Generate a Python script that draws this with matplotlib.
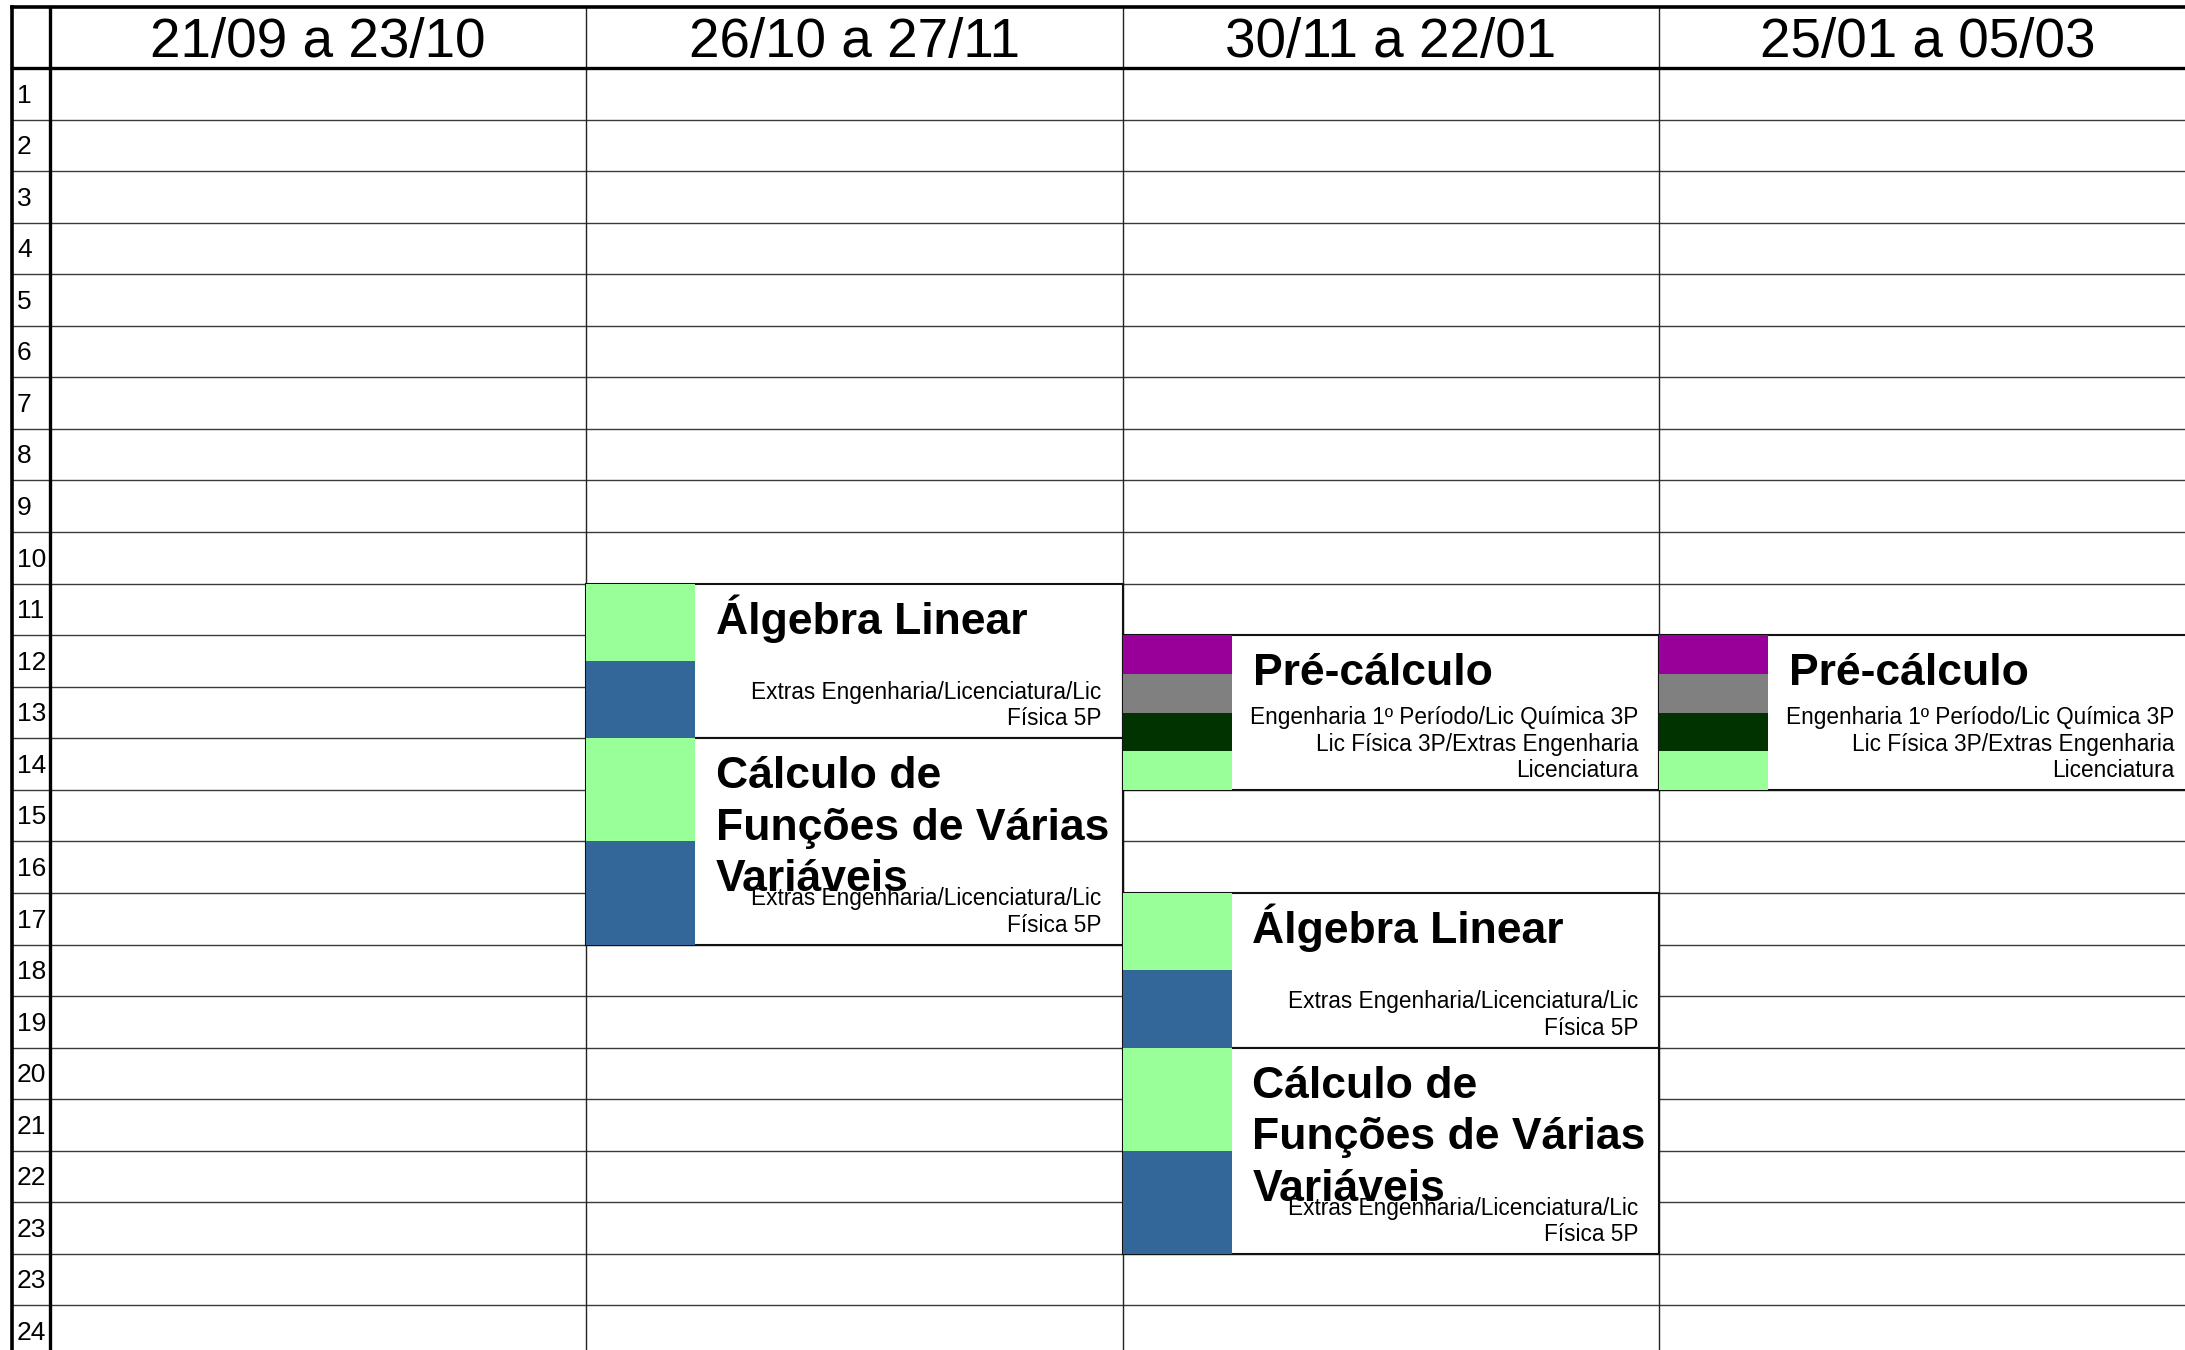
import matplotlib.pyplot as plt
from matplotlib.patches import Rectangle

plt.rcParams['font.family'] = ['Liberation Sans', 'DejaVu Sans']

# table content
periods = ['21/09 a 23/10', '26/10 a 27/11', '30/11 a 22/01', '25/01 a 05/03']
row_labels = [str(i) for i in range(1, 24)] + ['23', '24']

green = '#99FF99'
blue = '#336699'
purple = '#990099'
grey = '#808080'
darkgreen = '#003300'

alg_title = 'Álgebra Linear'
calc_title = 'Cálculo de\nFunções de Várias\nVariáveis'
pre_title = 'Pré-cálculo'
extras_sub = 'Extras Engenharia/Licenciatura/Lic\nFísica 5P'
pre_sub = 'Engenharia 1º Período/Lic Química 3P\nLic Física 3P/Extras Engenharia\nLicenciatura'

block_col = [1, 1, 2, 2, 2, 3]
block_start = [10, 13, 11, 16, 19, 11]
block_len = [3, 4, 3, 3, 4, 3]
block_title = [alg_title, calc_title, pre_title, alg_title, calc_title, pre_title]
block_sub = [extras_sub, extras_sub, pre_sub, extras_sub, extras_sub, pre_sub]
block_colors = [[green, blue], [green, blue],
                [purple, grey, darkgreen, green],
                [green, blue], [green, blue],
                [purple, grey, darkgreen, green]]

# layout (pixels)
W, H = 2185, 1350
left = 12
x0 = 49.5
col_w = 536.5
top = 7
head_bot = 68
row_h = 51.56
strip_w = 109

fig = plt.figure(figsize=(W / 100, H / 100), dpi=100)
ax = fig.add_axes([0, 0, 1, 1])
ax.set_xlim(0, W)
ax.set_ylim(H, 0)
ax.axis('off')

def row_y(i):
    return head_bot + i * row_h

# thin grid
for i in range(1, len(row_labels) + 1):
    ax.plot([left, W], [row_y(i), row_y(i)], color='#3a3a3a', lw=1.0, zorder=1)
for c in range(1, len(periods) + 1):
    xc = x0 + c * col_w
    ax.plot([xc, xc], [top, H], color='#222222', lw=1.0, zorder=1)

# thick borders
ax.plot([left, W], [top, top], color='black', lw=2.6, zorder=5)
ax.plot([left, W], [head_bot, head_bot], color='black', lw=2.4, zorder=5)
ax.plot([left, left], [top, H], color='black', lw=2.6, zorder=5)
ax.plot([x0, x0], [top, H], color='black', lw=2.4, zorder=5)

# header
for c, p in enumerate(periods):
    ax.text(x0 + (c + 0.5) * col_w, head_bot - 11, p, fontsize=39.5,
            ha='center', va='baseline', zorder=6)

# row numbers
for i, lab in enumerate(row_labels):
    ax.text(left + 5, row_y(i) + 0.67 * row_h, lab, fontsize=19,
            ha='left', va='baseline', zorder=6)

# course blocks
for c, s, n, title, sub, cols in zip(block_col, block_start, block_len,
                                     block_title, block_sub, block_colors):
    bx = x0 + c * col_w
    by = row_y(s)
    bh = n * row_h
    ax.add_patch(Rectangle((bx, by), col_w, bh, facecolor='white',
                           edgecolor='#111111', lw=1.5, zorder=2))
    sh = bh / len(cols)
    for k, fc in enumerate(cols):
        ax.add_patch(Rectangle((bx, by + k * sh), strip_w, sh,
                               facecolor=fc, edgecolor='none', zorder=3))
    for k, line in enumerate(title.split('\n')):
        ax.text(bx + 130, by + (0.97 + k) * row_h, line, fontsize=32,
                fontweight='bold', ha='left', va='baseline', zorder=6)
    sub_lines = sub.split('\n')
    m = len(sub_lines)
    for k, line in enumerate(sub_lines):
        ax.text(bx + col_w - 21, by + bh - (0.25 + 0.51 * (m - 1 - k)) * row_h,
                line, fontsize=16.3, ha='right', va='baseline', zorder=7)

fig.savefig('out.png', dpi=100)
